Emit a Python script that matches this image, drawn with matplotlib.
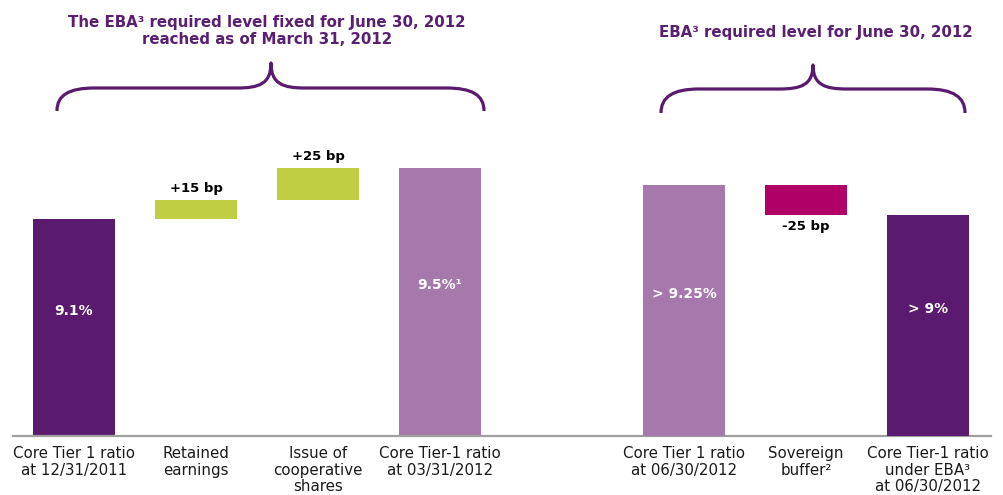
import matplotlib
matplotlib.use("Agg")
import matplotlib.pyplot as plt
from matplotlib.path import Path
from matplotlib.patches import PathPatch

# ---------------- data ----------------
left_pos = [0, 1, 2, 3]
left_labels = ["Core Tier 1 ratio\nat 12/31/2011", "Retained\nearnings",
               "Issue of\ncooperative\nshares", "Core Tier-1 ratio\nat 03/31/2012"]
left_start = 9.1
left_deltas = [0.15, 0.25]
left_total = 9.5
left_texts = ["9.1%", "+15 bp", "+25 bp", "9.5%¹"]

right_pos = [5, 6, 7]
right_labels = ["Core Tier 1 ratio\nat 06/30/2012", "Sovereign\nbuffer²",
                "Core Tier-1 ratio\nunder EBA³\nat 06/30/2012"]
right_start = 9.25
right_deltas = [-0.25]
right_total = 9.0
right_texts = ["> 9.25%", "-25 bp", "> 9%"]

title_left = "The EBA³ required level fixed for June 30, 2012\nreached as of March 31, 2012"
title_right = "EBA³ required level for June 30, 2012"

# ---------------- style ----------------
DARK = "#5A1A6E"
LIGHT = "#A678AC"
GREEN = "#BFCE42"
MAGENTA = "#B00068"
TITLE_C = "#5B1F72"
W, H = 1004, 495
BAR_W = 0.67

fig = plt.figure(figsize=(W / 100, H / 100), dpi=100)
base_frac = (H - 436) / H
ax = fig.add_axes([0, base_frac, 1, 1 - base_frac])
ax2 = ax.twinx()
ax.set_xlim(-74 / 122, (W - 74) / 122)
ax.set_ylim(7.4, 7.4 + 436 / 127.5)
ax2.set_ylim(7.158, 7.158 + 436 / 120)

for a in (ax, ax2):
    for s in a.spines.values():
        s.set_visible(False)
    a.set_yticks([])
    a.patch.set_visible(False)

ax.spines["bottom"].set_visible(True)
ax.spines["bottom"].set_color("#A0A0A0")
ax.spines["bottom"].set_linewidth(1.6)
ax.spines["bottom"].set_bounds(-0.5, 7.52)

ax.set_xticks(left_pos + right_pos, left_labels + right_labels)
ax.tick_params(axis="x", length=0, pad=7.5, labelsize=10.8, colors="#1a1a1a")
for t in ax.get_xticklabels():
    t.set_linespacing(1.12)
    t.set_va("top")

IN_FS = 10
BP_FS = 9.5


def waterfall(a, pos, start, deltas, total, texts, colors_delta, start_color, total_color):
    ybase = a.get_ylim()[0]
    a.bar(pos[0], start - ybase, bottom=ybase, width=BAR_W, color=start_color)
    a.annotate(texts[0], (pos[0], (start + ybase) / 2), xytext=(0, 12),
               textcoords="offset points", ha="center", va="center",
               color="white", fontsize=IN_FS, fontweight="bold")
    cur = start
    for i, d in enumerate(deltas):
        p = pos[1 + i]
        bottom = cur if d > 0 else cur + d
        a.bar(p, abs(d), bottom=bottom, width=BAR_W, color=colors_delta)
        off = 8.5 if d > 0 else -8.5
        a.annotate(texts[1 + i], (p, cur + d), xytext=(0, off),
                   textcoords="offset points", ha="center", va="center",
                   color="black", fontsize=BP_FS, fontweight="bold")
        cur += d
    p = pos[-1]
    a.bar(p, total - ybase, bottom=ybase, width=BAR_W, color=total_color)
    a.annotate(texts[-1], (p, (total + ybase) / 2), xytext=(0, 12),
               textcoords="offset points", ha="center", va="center",
               color="white", fontsize=IN_FS, fontweight="bold")


waterfall(ax, left_pos, left_start, left_deltas, left_total, left_texts,
          GREEN, DARK, LIGHT)
waterfall(ax2, right_pos, right_start, right_deltas, right_total, right_texts,
          MAGENTA, LIGHT, DARK)


def px(x, y):
    return (x / W, 1 - y / H)


def brace(x0, x1, tip, yh, yend, ytip, r1=38, r2=34):
    verts = [px(x0, yend),
             px(x0, yend - 16), px(x0 + 12, yh), px(x0 + r1, yh),
             px(tip - r2, yh),
             px(tip - 12, yh), px(tip, yh - 4), px(tip, ytip),
             px(tip, yh - 4), px(tip + 12, yh), px(tip + r2, yh),
             px(x1 - r1, yh),
             px(x1 - 12, yh), px(x1, yend - 16), px(x1, yend)]
    codes = [Path.MOVETO,
             Path.CURVE4, Path.CURVE4, Path.CURVE4,
             Path.LINETO,
             Path.CURVE4, Path.CURVE4, Path.CURVE4,
             Path.CURVE4, Path.CURVE4, Path.CURVE4,
             Path.LINETO,
             Path.CURVE4, Path.CURVE4, Path.CURVE4]
    patch = PathPatch(Path(verts, codes), transform=fig.transFigure,
                      facecolor="none", edgecolor=DARK, linewidth=2.3,
                      capstyle="butt", joinstyle="round")
    fig.add_artist(patch)


brace(57, 484, 271, 88, 111, 63)
brace(661, 965, 813, 89, 113, 65)

fig.text(*px(267, 31), title_left, ha="center", va="center", fontsize=10.8,
         fontweight="bold", color=TITLE_C, linespacing=1.2)
fig.text(*px(816, 33), title_right, ha="center", va="center", fontsize=10.8,
         fontweight="bold", color=TITLE_C)

fig.savefig("out.png", dpi=100)
